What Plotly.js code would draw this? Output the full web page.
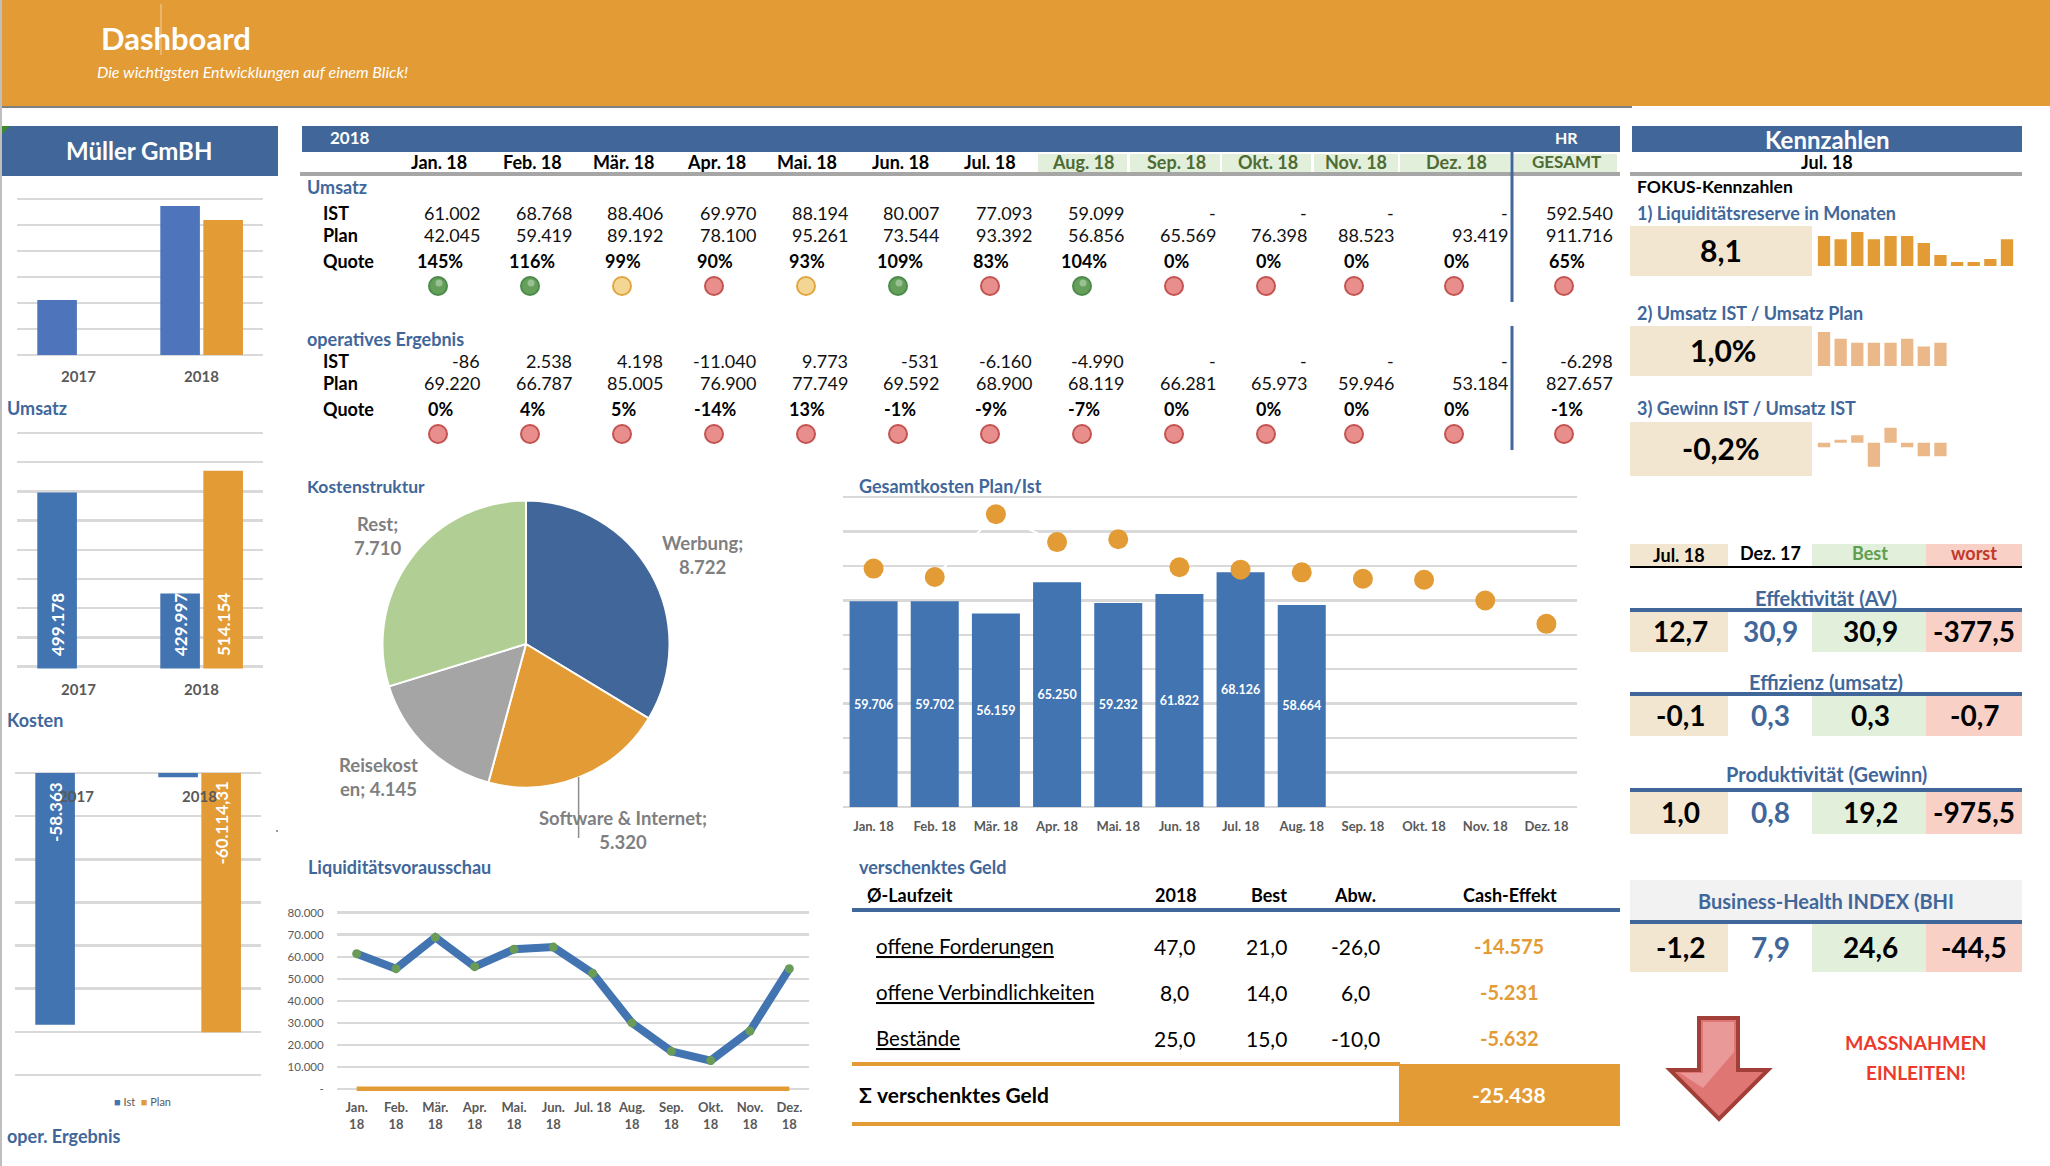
<!DOCTYPE html>
<html><head><meta charset="utf-8">
<script src="https://cdn.plot.ly/plotly-3.0.1.min.js"></script>
<style>html,body{margin:0;padding:0;background:#fff}#c{width:2050px;height:1166px}</style>
</head><body><div id="c"></div>
<script>
// ---------- DATA ----------
const months = ['Jan. 18','Feb. 18','Mär. 18','Apr. 18','Mai. 18','Jun. 18','Jul. 18','Aug. 18','Sep. 18','Okt. 18','Nov. 18','Dez. 18'];
const tableHead = ['Jan. 18','Feb. 18','Mär. 18','Apr. 18','Mai. 18','Jun. 18','Jul. 18','Aug. 18','Sep. 18','Okt. 18','Nov. 18','Dez. 18','GESAMT'];
const years = ['2017','2018'];
const umsatzChartIst = [211500, 573000];
const umsatzChartPlan = [null, 519000];
const kostenChartIst = [499178, 429997];
const kostenChartPlan = [null, 514154];
const ergebnisChartIst = [-58363, -1000];
const ergebnisChartPlan = [null, -60114.31];
const umsatzIst = [61002,68768,88406,69970,88194,80007,77093,59099,null,null,null,null,592540];
const umsatzPlan = [42045,59419,89192,78100,95261,73544,93392,56856,65569,76398,88523,93419,911716];
const umsatzQuote = [145,116,99,90,93,109,83,104,0,0,0,0,65];
const umsatzStatus = ['g','g','y','r','y','g','r','g','r','r','r','r','r'];
const ergebnisIst = [-86,2538,4198,-11040,9773,-531,-6160,-4990,null,null,null,null,-6298];
const ergebnisPlan = [69220,66787,85005,76900,77749,69592,68900,68119,66281,65973,59946,53184,827657];
const ergebnisQuote = [0,4,5,-14,13,-1,-9,-7,0,0,0,0,-1];
const ergebnisStatus = ['r','r','r','r','r','r','r','r','r','r','r','r','r'];
const kostenLabels = ['Werbung','Software & Internet','Reisekosten','Rest'];
const kostenValues = [8722,5320,4145,7710];
const gesamtIst = [59706,59702,56159,65250,59232,61822,68126,58664,null,null,null,null];
const gesamtPlan = [69220,66787,85005,76900,77749,69592,68900,68119,66281,65973,59946,53184];
const liqTicks = ['Jan.<br>18','Feb.<br>18','Mär.<br>18','Apr.<br>18','Mai.<br>18','Jun.<br>18','Jul. 18','Aug.<br>18','Sep.<br>18','Okt.<br>18','Nov.<br>18','Dez.<br>18'];
const liqValues = [61400,54600,68800,55500,63400,64400,52500,30000,17100,12900,26300,54600];
const liqPlan = [0,0,0,0,0,0,0,0,0,0,0,0];
const liqYTicks = [0,10000,20000,30000,40000,50000,60000,70000,80000];
const spark1 = [10.6,9.4,12.0,9.4,10.6,10.6,8.1,3.9,1.4,1.4,2.5,9.4];
const spark2 = [145,116,99,99,99,116,83,99];
const spark3 = [-3,2,5,-16,10,-3,-9,-9];
const geldNames = ['offene Forderungen','offene Verbindlichkeiten','Bestände'];
const geld2018 = ['47,0','8,0','25,0'];
const geldBest = ['21,0','14,0','15,0'];
const geldAbw = ['-26,0','6,0','-10,0'];
const geldCash = ['-14.575','-5.231','-5.632'];
const geldSum = '-25.438';
const kpiHead = ['Jul. 18','Dez. 17','Best','worst'];
const kpiEffektivitaet = ['12,7','30,9','30,9','-377,5'];
const kpiEffizienz = ['-0,1','0,3','0,3','-0,7'];
const kpiProduktivitaet = ['1,0','0,8','19,2','-975,5'];
const kpiBHI = ['-1,2','7,9','24,6','-44,5'];

// ---------- STYLE / LAYOUT CONSTANTS ----------
const W=2050,H=1166;
const FONT='Lato, "Open Sans", sans-serif';
const BLUE='#41679a',BAR='#4174b1',BAR1='#4e74bb',OR='#e39b36',GRID='#d9d9d9',LBL='#595959';
const BEIGE='#f2e6d0',GREENBG='#e2efda',PINK='#f8d0c6';
const headCx=[439,532,623,716,807,900,990,1083,1176,1268,1356,1456,1566];
const valR=[481,573,664,757,849,940,1033,1125,1217,1308,1395,1509,1614];
const quoteCx=[440,532,623,715,807,900,991,1084,1176,1268,1356,1456,1567];
const dotCx=[438,530,622,714,806,898,990,1082,1174,1266,1354,1454,1564];
const STAT={g:['#64a05a','#4d8a4a'],y:['#f3d594','#e2a640'],r:['#e88f8d','#c4524f']};

const fx=p=>p/W, fy=p=>1-p/H;
const de=n=>n===null?'-':n.toLocaleString('de-DE');
const ann=[],shp=[],traces=[];
function T(text,x,y,o={}){
  ann.push({text:(o.b===false?text:'<b>'+text+'</b>'),xref:'paper',yref:'paper',x:fx(x),y:fy(y-1),showarrow:false,
    xanchor:o.a||'center',yanchor:'middle',align:o.align||'center',borderpad:0,
    font:{family:FONT,size:o.s||18,color:o.c||'#000'}});
}
function R(x0,y0,x1,y1,c){shp.push({type:'rect',xref:'paper',yref:'paper',x0:fx(x0),x1:fx(x1),y0:fy(y0),y1:fy(y1),fillcolor:c,line:{width:0},layer:'below'});}
function P(pts,fill,lc,lw,layer){
  const d=pts.map((p,i)=>(i?'L':'M')+fx(p[0])+','+fy(p[1])).join(' ')+' Z';
  shp.push({type:'path',xref:'paper',yref:'paper',path:d,fillcolor:fill,line:{color:lc||fill,width:lw||0},layer:layer||'below'});
}
const layout={width:W,height:H,margin:{l:0,r:0,t:0,b:0,pad:0},paper_bgcolor:'#fff',plot_bgcolor:'rgba(0,0,0,0)',
  showlegend:false,barmode:'overlay',font:{family:FONT},annotations:ann,shapes:shp,hovermode:false};
function axes(i,x0,x1,y0,y1,xo,yo){
  layout['xaxis'+i]=Object.assign({domain:[fx(x0),fx(x1)],anchor:'y'+i,showgrid:false,zeroline:false,showline:false,fixedrange:true,
    ticks:'',showticklabels:false},xo);
  layout['yaxis'+i]=Object.assign({domain:[fy(y1),fy(y0)],anchor:'x'+i,showgrid:false,zeroline:false,showline:false,fixedrange:true,
    ticks:'',showticklabels:false},yo);
}
// gridded axes: widen the plot by 2px each side so the first and last grid lines are not lost
function gaxes(i,x0,x1,y0,y1,xo,r,d,yo){
  const pad=2,u=(r[1]-r[0])/(y1-y0);
  axes(i,x0,x1,y0-pad,y1+pad,xo,Object.assign({range:[r[0]-pad*u,r[1]+pad*u],dtick:d,tick0:0,showgrid:true,gridcolor:GRID,gridwidth:2.5},yo||{}));
}
const yearX=(pad)=>({type:'category',categoryorder:'array',categoryarray:years,range:[-0.5,1.5],showticklabels:true,tickmode:'array',tickvals:[0,1],ticktext:years.map(y=>'<b>'+y+'</b>'),
  tickfont:{family:FONT,size:15,color:LBL},ticks:'outside',ticklen:pad,tickcolor:'rgba(0,0,0,0)'});
const monthX=(size,pad,labels)=>({type:'category',categoryorder:'array',categoryarray:months,range:[-0.5,11.5],showticklabels:true,tickmode:'array',tickvals:months,ticktext:labels,
  tickfont:{family:FONT,size:size,color:LBL},ticks:'outside',ticklen:pad,tickcolor:'rgba(0,0,0,0)'});

// ---------- BACKGROUND PANELS ----------
R(0,0,2,H,'#bfbfbf');
R(2,0,W,106,OR); R(2,106,1632,108,'#808080');
shp.push({type:'line',xref:'paper',yref:'paper',x0:fx(161),x1:fx(161),y0:fy(4),y1:fy(55),line:{color:'rgba(255,255,255,.55)',width:1},layer:'above'});
T('Dashboard',176,39,{s:31,c:'#fff'});
T('<i>Die wichtigsten Entwicklungen auf einem Blick!</i>',96,73,{s:16,c:'#fff',a:'left',b:false});
R(2,126,278,176,BLUE);
P([[2,126],[10,126],[2,134]],'#3d8a2e');
T('Müller GmBH',139,152,{s:24,c:'#fff'});
shp.push({type:'rect',xref:'paper',yref:'paper',x0:fx(276),x1:fx(278),y0:fy(830),y1:fy(832),fillcolor:'#999',line:{width:0}});

// ---------- LEFT BAR CHARTS ----------
const W1=.322,OI=-.335,OP=.015;
gaxes(1,17,263,199,355,yearX(6),[0,600000],100000);
traces.push({type:'bar',x:years,y:umsatzChartIst,xaxis:'x1',yaxis:'y1',width:W1,offset:OI,marker:{color:BAR1}});
traces.push({type:'bar',x:years,y:umsatzChartPlan,xaxis:'x1',yaxis:'y1',width:W1,offset:OP,marker:{color:OR}});
T('Umsatz',6,409,{c:BLUE,a:'left'});

gaxes(2,17,263,433,666.5,yearX(7),[380000,540000],20000);
traces.push({type:'bar',x:years,y:kostenChartIst,xaxis:'x2',yaxis:'y2',width:W1,offset:OI,marker:{color:BAR}});
traces.push({type:'bar',x:years,y:kostenChartPlan,xaxis:'x2',yaxis:'y2',width:W1,offset:OP,marker:{color:OR}});
T('Kosten',6,721,{c:BLUE,a:'left'});
function rotLabel(ax,idx,shift,y,txt,yanchor,ys){
  ann.push({text:'<b>'+txt+'</b>',xref:'x'+ax,yref:'y'+ax,x:idx,y:y,xshift:shift,yshift:ys,textangle:-90,showarrow:false,
    yanchor:yanchor,xanchor:'center',borderpad:0,font:{family:FONT,size:17,color:'#fff'}});
}
rotLabel(2,0,-21.5,380000,de(kostenChartIst[0]),'bottom',9);
rotLabel(2,1,-21.5,380000,de(kostenChartIst[1]),'bottom',9);
rotLabel(2,1,21.5,380000,de(kostenChartPlan[1]),'bottom',9);

gaxes(3,15,261,773,1075,Object.assign(yearX(1),{anchor:'free',position:fy(782)}),[-70000,0],10000);
traces.push({type:'bar',x:years,y:ergebnisChartIst,xaxis:'x3',yaxis:'y3',width:W1,offset:OI,marker:{color:BAR}});
traces.push({type:'bar',x:years,y:ergebnisChartPlan,xaxis:'x3',yaxis:'y3',width:W1,offset:OP,marker:{color:OR}});
rotLabel(3,0,-21.5,0,de(ergebnisChartIst[0]),'top',-8);
rotLabel(3,1,21.5,0,ergebnisChartPlan[1].toLocaleString('de-DE',{minimumFractionDigits:2}),'top',-8);
T('<span style="color:'+BAR+'">■</span> Ist  <span style="color:'+OR+'">■</span> Plan',142,1102,{s:11,c:LBL,b:false});
T('oper. Ergebnis',6,1137,{c:BLUE,a:'left'});

// ---------- MAIN TABLE ----------
R(302,126,1620,152,BLUE);
T('2018',350,139,{s:17,c:'#fff'}); T('HR',1566,139,{s:16,c:'#fff'});
[[1038,1127],[1130,1220],[1222,1311],[1314,1398],[1400,1510],[1514,1617]].forEach(c=>R(c[0],154,c[1],172,GREENBG));
R(300,172,1620,176,'#a6a6a6');
R(1510.5,152,1513.5,302,BLUE); R(1510.5,326,1513.5,450,BLUE);
tableHead.forEach((m,i)=>T(m,headCx[i],163,{c:i>=7?'#4f6b34':'#000',s:i===12?17:18}));
function block(title,ty,rows,ist,plan,quote){
  T(title,306,ty,{c:BLUE,a:'left'});
  T('IST',322,rows[0],{a:'left'});T('Plan',322,rows[1],{a:'left'});T('Quote',322,rows[2],{a:'left'});
  ist.forEach((v,i)=>T(de(v),valR[i],rows[0],{a:'right',b:false,c:'#111'}));
  plan.forEach((v,i)=>T(de(v),valR[i],rows[1],{a:'right',b:false,c:'#111'}));
  quote.forEach((v,i)=>T(v+'%',quoteCx[i],rows[2]));
}
block('Umsatz',188,[214,236,262],umsatzIst,umsatzPlan,umsatzQuote);
block('operatives Ergebnis',340,[362,384,410],ergebnisIst,ergebnisPlan,ergebnisQuote);
// traffic lights on a page-wide pixel axis
axes(30,0,W,0,H,{range:[0,W]},{range:[H,0]});
function lights(st,y){
  traces.push({type:'scatter',mode:'markers',x:dotCx,y:dotCx.map(()=>y),xaxis:'x30',yaxis:'y30',
    marker:{size:18,color:st.map(s=>STAT[s][0]),line:{color:st.map(s=>STAT[s][1]),width:2}}});
  const gl=dotCx.map((x,i)=>st[i]==='g'?x+1:null);
  traces.push({type:'scatter',mode:'markers',x:gl,y:dotCx.map(()=>y-3),xaxis:'x30',yaxis:'y30',
    marker:{size:7,color:'rgba(255,255,255,.35)'}});
}
lights(umsatzStatus,286); lights(ergebnisStatus,434);

// ---------- KENNZAHLEN ----------
R(1632,126,2022,152,BLUE);
T('Kennzahlen',1827,140,{s:24,c:'#fff'});
T('Jul. 18',1827,163);
R(1630,172,2022,176,'#a6a6a6');
T('FOKUS-Kennzahlen',1636,188,{a:'left',s:17.5});
T('1) Liquiditätsreserve in Monaten',1636,214,{a:'left',c:BLUE});
R(1630,226,1812,276,BEIGE); T('8,1',1721,251,{s:30});
T('2) Umsatz IST / Umsatz Plan',1636,314,{a:'left',c:BLUE});
R(1630,326,1812,376,BEIGE); T('1,0%',1723,351,{s:30});
T('3) Gewinn IST / Umsatz IST',1636,409,{a:'left',c:BLUE});
R(1630,422,1812,476,BEIGE); T('-0,2%',1721,449,{s:30});
const sparkX={type:'category',categoryorder:'array',categoryarray:months,range:[-0.5,11.5]};
axes(4,1815.7,2015.3,226,266,sparkX,{range:[0,14.1]});
traces.push({type:'bar',x:months,y:spark1,xaxis:'x4',yaxis:'y4',width:.74,marker:{color:OR}});
axes(5,1815.7,2015.3,326,366,sparkX,{range:[0,170]});
traces.push({type:'bar',x:months.slice(0,8),y:spark2,xaxis:'x5',yaxis:'y5',width:.74,marker:{color:'#ebb88a'}});
axes(6,1815.7,2015.3,425,475,sparkX,{range:[-21.5,11.8]});
traces.push({type:'bar',x:months.slice(0,8),y:spark3,xaxis:'x6',yaxis:'y6',width:.74,marker:{color:'#ebb88a'}});

// KPI grid
const kc=[1680,1770,1870,1974];
R(1630,544,1728,566,BEIGE);R(1812,544,1926,566,GREENBG);R(1926,544,2022,566,PINK);R(1630,566,2022,568,'#000');
T(kpiHead[0],kc[0]-1,556);T(kpiHead[1],kc[1],554);T(kpiHead[2],kc[2],554,{c:'#5f9e4f'});T(kpiHead[3],kc[3],554,{c:'#c0392b'});
function kpi(title,ty,ly,y0,y1,vals){
  T(title,1826,ty,{s:20,c:BLUE});
  R(1630,ly,2022,ly+4,BLUE);
  R(1630,y0,1728,y1,BEIGE);R(1812,y0,1926,y1,GREENBG);R(1926,y0,2022,y1,PINK);
  vals.forEach((v,i)=>T(v,kc[i],(y0+y1)/2,{s:28,c:i===1?BLUE:'#000'}));
}
kpi('Effektivität (AV)',599,608,612,652,kpiEffektivitaet);
kpi('Effizienz (umsatz)',683,692,696,736,kpiEffizienz);
kpi('Produktivität (Gewinn)',775,788,792,834,kpiProduktivitaet);
R(1630,880,2022,920,'#f2f2f2');
kpi('Business-Health INDEX (BHI',902,920,924,972,kpiBHI);

// arrow + message
P([[1699,1018],[1738,1018],[1738,1070],[1768,1070],[1719,1119],[1670,1070],[1699,1070]],'#e07674','#a23f38',4);
P([[1703,1022],[1734,1022],[1734,1052],[1703,1088],[1680,1073],[1703,1073]],'#e99a98');
T('MASSNAHMEN',1916,1043,{s:19.5,c:'#ec3a2b'});
T('EINLEITEN!',1916,1073,{s:19,c:'#ec3a2b'});

// ---------- PIE ----------
T('Kostenstruktur',306,487,{c:BLUE,a:'left',s:17.5});
traces.push({type:'pie',labels:kostenLabels,values:kostenValues,sort:false,direction:'clockwise',rotation:0,textinfo:'none',
  domain:{x:[fx(526-143.5),fx(526+143.5)],y:[fy(644+143.5),fy(644-143.5)]},
  marker:{colors:[BLUE,OR,'#a5a5a5','#b1cf95'],line:{color:'#fff',width:2}}});
const PL={s:18.5,c:'#7f7f7f'};
T(kostenLabels[0]+';<br>'+de(kostenValues[0]),702,556,PL);
T(kostenLabels[3]+';<br>'+de(kostenValues[3]),378,537,PL);
T('Reisekost<br>en; '+de(kostenValues[2]),378,778,PL);
shp.push({type:'line',xref:'paper',yref:'paper',x0:fx(578.6),x1:fx(578.6),y0:fy(777),y1:fy(838),line:{color:'#8c8c8c',width:1.5}});
T(kostenLabels[1]+';<br>'+de(kostenValues[1]),623,831,PL);

// ---------- GESAMTKOSTEN ----------
T('Gesamtkosten Plan/Ist',858,487,{c:BLUE,a:'left'});
gaxes(7,843,1577,497,807,monthX(13,5,months.map(m=>'<b>'+m+'</b>')),[0,90000],10000);
traces.push({type:'bar',x:months,y:gesamtIst,xaxis:'x7',yaxis:'y7',width:.785,marker:{color:BAR},
  text:gesamtIst.map(v=>v===null?'':'<b>'+de(v)+'</b>'),textposition:'inside',insidetextanchor:'middle',textangle:0,constraintext:'none',
  insidetextfont:{family:FONT,size:12.5,color:'#fff'}});
traces.push({type:'scatter',mode:'lines+markers',x:months,y:gesamtPlan,xaxis:'x7',yaxis:'y7',line:{color:'#fff',width:2},
  marker:{size:20,color:OR}});

// ---------- LIQUIDITAET ----------
T('Liquiditätsvorausschau',307,868,{c:BLUE,a:'left'});
gaxes(8,337,809,912.7,1089,monthX(13,4,liqTicks.map(l=>'<b>'+l.replace('<br>','</b><br><b>')+'</b>')),[0,80000],10000,
  {showticklabels:true,tickmode:'array',tickvals:liqYTicks,ticktext:liqYTicks.map(v=>v===0?'-':de(v)),
  tickfont:{family:FONT,size:11.5,color:LBL},ticks:'outside',ticklen:10,tickcolor:'rgba(0,0,0,0)'});
traces.push({type:'scatter',mode:'lines',x:months,y:liqPlan,xaxis:'x8',yaxis:'y8',cliponaxis:false,line:{color:OR,width:5}});
traces.push({type:'scatter',mode:'lines+markers',x:months,y:liqValues,xaxis:'x8',yaxis:'y8',line:{color:BAR,width:8},
  marker:{size:9,color:'#6a9c58'}});

// ---------- VERSCHENKTES GELD ----------
T('verschenktes Geld',858,868,{c:BLUE,a:'left'});
T('Ø-Laufzeit',866,896,{a:'left'});T('2018',1176,896);T('Best',1269,896);T('Abw.',1355,896);T('Cash-Effekt',1510,896);
R(852,908,1620,912,BLUE);
const geldY=[947,993,1039];
geldNames.forEach((n,i)=>{
  T('<u>'+n+'</u>',875,geldY[i],{a:'left',s:20.5,b:false});
  T(geld2018[i],1174,geldY[i],{s:21,b:false});T(geldBest[i],1266,geldY[i],{s:21,b:false});T(geldAbw[i],1355,geldY[i],{s:21,b:false});
  T(geldCash[i],1509,geldY[i],{s:20,c:OR});
});
R(852,1062,1400,1066,OR);R(852,1122,1620,1126,OR);R(1399,1064,1620,1126,OR);
T('Σ verschenktes Geld',858,1095,{a:'left',s:21});
T(geldSum,1509,1095,{s:21,c:'#fff'});

Plotly.newPlot('c',traces,layout,{displayModeBar:false,staticPlot:true});
</script></body></html>
